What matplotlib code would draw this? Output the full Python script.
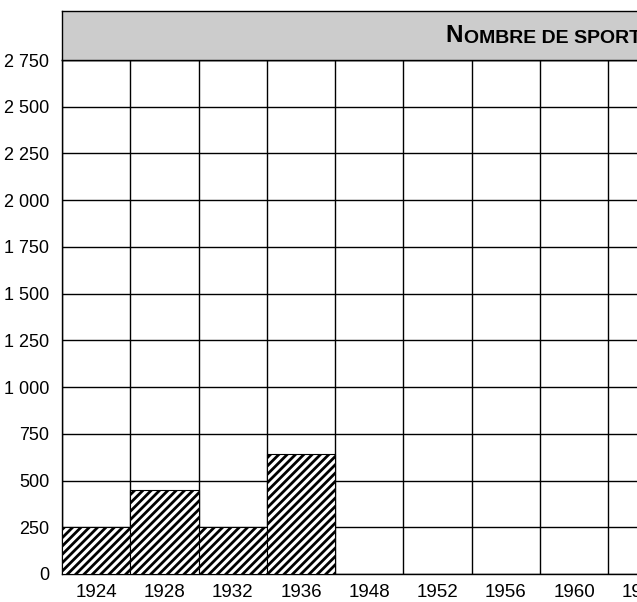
import matplotlib
matplotlib.use("Agg")
from matplotlib import pyplot as plt
from matplotlib import font_manager
import numpy as np

names = {f.name for f in font_manager.fontManager.ttflist}
narrow = "Liberation Sans Narrow" if "Liberation Sans Narrow" in names else "Liberation Sans"
plt.rcParams['font.family'] = [narrow, 'DejaVu Sans']
plt.rcParams['hatch.linewidth'] = 2.0

# data
years = ['1924', '1928', '1932', '1936', '1948', '1952', '1956', '1960', '1964']
athletes = [250, 450, 250, 640]
y_ticks = list(range(0, 2751, 250))
title_first = "N"
title_rest = "OMBRE DE SPORTIFS"

W, H = 637, 602
col = 68.3
fig = plt.figure(figsize=(W / 100, H / 100), dpi=100)

ax = fig.add_axes([62 / W, (H - 574) / H, len(years) * col / W, (574 - 60) / H])
x = np.arange(len(years))
ax.bar(x[:len(athletes)], athletes, width=1, color='white', edgecolor='black',
       hatch='////', linewidth=0.8, zorder=3)
ax.set_xlim(-0.5, len(years) - 0.5)
ax.set_ylim(0, 2750)
ax.set_xticks(x)
ax.set_xticklabels(years, fontsize=13.5)
ax.set_xticks(np.arange(len(years) + 1) - 0.5, minor=True)
ax.set_yticks(y_ticks)
ax.set_yticklabels([f"{v:,}".replace(",", " ") for v in y_ticks], fontsize=13)
ax.tick_params(which='both', length=0)
ax.tick_params(axis='x', pad=7)
ax.tick_params(axis='y', pad=9)
ax.grid(which='minor', axis='x', color='black', linewidth=1)
ax.grid(which='major', axis='y', color='black', linewidth=1)
ax.set_axisbelow(True)
for s in ax.spines.values():
    s.set_color('black')
    s.set_linewidth(1)

head = fig.add_axes([62 / W, (H - 60) / H, len(years) * col / W, 49 / H])
head.set_facecolor('#cccccc')
head.set_xticks([])
head.set_yticks([])
for s in head.spines.values():
    s.set_color('black')
    s.set_linewidth(1)

t = fig.text(445 / W, (H - 42) / H, title_first, fontsize=17.5, fontweight='bold',
             ha='left', va='baseline')
head.annotate(title_rest, xy=(1, 0), xycoords=t, xytext=(1, 0), textcoords='offset pixels',
              fontsize=14, fontweight='bold', ha='left', va='bottom',
              annotation_clip=False)

fig.savefig('out.png', dpi=100)
